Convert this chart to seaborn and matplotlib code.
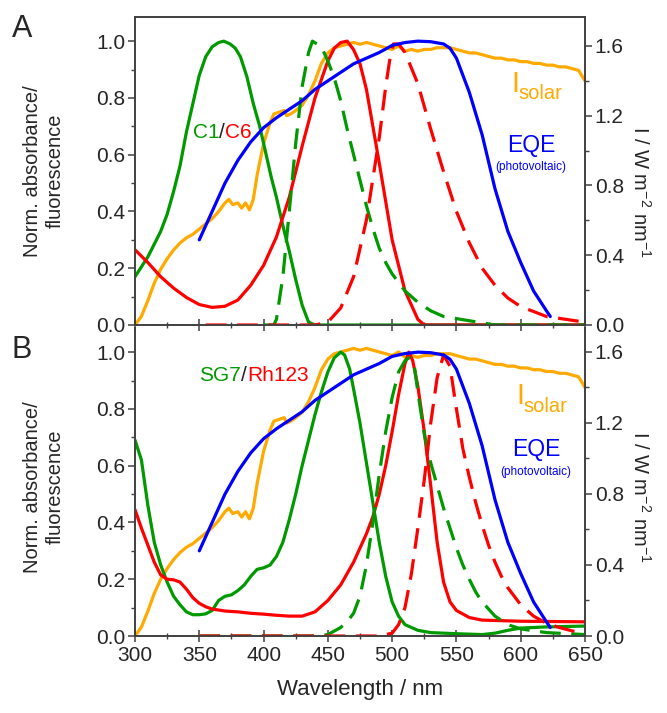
import numpy as np
import pandas as pd
import matplotlib
matplotlib.use("Agg")
import matplotlib.pyplot as plt
from matplotlib.ticker import MultipleLocator
import seaborn as sns

# ---------------- data ----------------
# Panel A: C1 (green) / C6 (red)
c1_abs_x = [300, 310, 320, 325, 330, 335, 340, 345, 350, 355, 360, 365, 369, 374, 378, 382, 387, 392, 397, 402, 406, 410, 415, 420, 425, 430, 435, 440, 500, 650]
c1_abs_y = [0.17, 0.24, 0.33, 0.39, 0.47, 0.56, 0.68, 0.78, 0.88, 0.945, 0.98, 0.995, 1.0, 0.99, 0.975, 0.945, 0.875, 0.78, 0.70, 0.60, 0.52, 0.45, 0.35, 0.26, 0.16, 0.07, 0.01, 0.0, 0.0, 0.0]

c1_fl_x = [400, 408, 410, 415, 420, 425, 430, 435, 438, 445, 450, 455, 460, 465, 470, 475, 480, 485, 490, 495, 500, 510, 520, 530, 540, 560, 580, 650]
c1_fl_y = [0.0, 0.0, 0.02, 0.17, 0.40, 0.64, 0.84, 0.96, 1.0, 0.98, 0.93, 0.87, 0.79, 0.69, 0.60, 0.51, 0.42, 0.34, 0.27, 0.22, 0.18, 0.12, 0.08, 0.05, 0.03, 0.015, 0.0, 0.0]

c6_abs_x = [300, 310, 320, 330, 340, 350, 360, 370, 380, 390, 400, 410, 420, 430, 440, 450, 455, 460, 465, 470, 475, 480, 490, 500, 510, 520, 525, 650]
c6_abs_y = [0.265, 0.22, 0.17, 0.13, 0.097, 0.072, 0.062, 0.066, 0.088, 0.14, 0.21, 0.31, 0.45, 0.63, 0.80, 0.93, 0.975, 0.995, 1.0, 0.97, 0.92, 0.83, 0.57, 0.30, 0.12, 0.02, 0.0, 0.0]

c6_fl_x = [355, 440, 450, 460, 470, 480, 490, 495, 498, 501, 505, 510, 520, 530, 540, 550, 560, 570, 580, 590, 600, 620, 650]
c6_fl_y = [0.0, 0.0, 0.01, 0.06, 0.17, 0.37, 0.66, 0.84, 0.93, 0.99, 0.99, 0.96, 0.85, 0.69, 0.54, 0.40, 0.29, 0.20, 0.14, 0.095, 0.065, 0.03, 0.01]

# Panel B: SG7 (green) / Rh123 (red)
sg7_abs_x = [300, 305, 310, 315, 320, 325, 330, 335, 340, 345, 350, 355, 360, 365, 370, 375, 380, 385, 390, 395, 400, 405, 410, 415, 420, 425, 430, 435, 440, 445, 450, 455, 460, 463, 467, 470, 475, 480, 485, 490, 495, 500, 505, 510, 520, 530, 550, 570, 580, 590, 600, 620, 650]
sg7_abs_y = [0.69, 0.62, 0.46, 0.33, 0.25, 0.19, 0.14, 0.11, 0.085, 0.075, 0.075, 0.078, 0.09, 0.125, 0.14, 0.145, 0.16, 0.18, 0.21, 0.235, 0.24, 0.25, 0.28, 0.33, 0.41, 0.50, 0.60, 0.69, 0.78, 0.86, 0.93, 0.98, 1.0, 0.99, 0.94, 0.87, 0.75, 0.61, 0.47, 0.33, 0.21, 0.12, 0.07, 0.04, 0.02, 0.012, 0.008, 0.005, 0.01, 0.02, 0.028, 0.032, 0.035]

sg7_fl_x = [350, 440, 450, 460, 465, 470, 475, 480, 485, 490, 495, 500, 505, 510, 513, 517, 520, 525, 530, 535, 540, 545, 550, 555, 560, 565, 570, 580, 590, 600, 620, 650]
sg7_fl_y = [0.0, 0.0, 0.005, 0.03, 0.05, 0.08, 0.14, 0.25, 0.40, 0.57, 0.72, 0.84, 0.93, 0.97, 0.98, 0.96, 0.86, 0.71, 0.61, 0.53, 0.45, 0.38, 0.31, 0.25, 0.20, 0.155, 0.12, 0.07, 0.04, 0.025, 0.012, 0.005]

rh_abs_x = [300, 305, 310, 315, 320, 325, 330, 335, 340, 345, 350, 355, 360, 370, 380, 390, 400, 410, 420, 430, 440, 450, 460, 470, 480, 485, 490, 495, 500, 505, 510, 513, 516, 520, 525, 530, 535, 540, 545, 550, 560, 570, 600, 650]
rh_abs_y = [0.445, 0.38, 0.32, 0.26, 0.215, 0.20, 0.198, 0.19, 0.165, 0.135, 0.115, 0.103, 0.095, 0.088, 0.085, 0.08, 0.077, 0.073, 0.07, 0.07, 0.085, 0.125, 0.18, 0.26, 0.36, 0.42, 0.50, 0.60, 0.72, 0.85, 0.96, 1.0, 0.97, 0.88, 0.72, 0.53, 0.33, 0.19, 0.12, 0.09, 0.065, 0.056, 0.052, 0.05]

rh_fl_x = [350, 490, 495, 500, 505, 510, 515, 520, 525, 530, 535, 540, 545, 550, 555, 560, 565, 570, 575, 580, 585, 590, 600, 610, 620, 630, 640, 650]
rh_fl_y = [0.0, 0.0, 0.005, 0.01, 0.04, 0.10, 0.22, 0.38, 0.55, 0.75, 0.91, 0.99, 0.95, 0.80, 0.66, 0.56, 0.47, 0.39, 0.32, 0.26, 0.21, 0.17, 0.11, 0.07, 0.045, 0.03, 0.018, 0.01]

# EQE (photovoltaic), normalised
eqe_x = [350, 360, 370, 380, 390, 400, 410, 420, 430, 440, 450, 460, 470, 480, 490, 500, 510, 520, 530, 540, 545, 550, 560, 570, 580, 590, 600, 610, 620, 623]
eqe_y = [0.30, 0.40, 0.50, 0.58, 0.645, 0.695, 0.73, 0.76, 0.79, 0.83, 0.86, 0.89, 0.92, 0.94, 0.96, 0.985, 0.995, 1.0, 0.998, 0.99, 0.975, 0.94, 0.82, 0.67, 0.48, 0.33, 0.22, 0.12, 0.05, 0.03]

# Solar irradiance (W m-2 nm-1)
sol_x = [300, 305, 310, 315, 320, 325, 330, 335, 340, 345, 350, 355, 360, 365, 370, 373, 376, 380, 383, 386, 389, 392, 395, 400, 405, 408, 412, 416, 418, 421, 425, 430, 435, 440, 445, 450, 455, 460, 465, 470, 475, 480, 485, 490, 495, 500, 505, 510, 515, 520, 525, 530, 535, 540, 545, 550, 555, 560, 565, 570, 575, 580, 585, 590, 595, 600, 605, 610, 615, 620, 625, 630, 635, 640, 645, 650]
sol_y = [0.0, 0.05, 0.14, 0.24, 0.32, 0.38, 0.43, 0.47, 0.50, 0.52, 0.55, 0.58, 0.61, 0.65, 0.70, 0.72, 0.69, 0.70, 0.67, 0.70, 0.66, 0.72, 0.86, 1.04, 1.16, 1.21, 1.22, 1.23, 1.20, 1.21, 1.23, 1.26, 1.32, 1.40, 1.50, 1.56, 1.59, 1.60, 1.61, 1.62, 1.61, 1.62, 1.61, 1.60, 1.59, 1.58, 1.60, 1.57, 1.58, 1.57, 1.58, 1.58, 1.59, 1.59, 1.59, 1.58, 1.57, 1.56, 1.56, 1.55, 1.54, 1.53, 1.53, 1.52, 1.52, 1.51, 1.51, 1.50, 1.50, 1.49, 1.49, 1.48, 1.48, 1.47, 1.46, 1.40]

xticks = [300, 350, 400, 450, 500, 550, 600, 650]
left_ticks = [0.0, 0.2, 0.4, 0.6, 0.8, 1.0]
right_ticks = [0.0, 0.4, 0.8, 1.2, 1.6]

# ---------------- style ----------------
sns.set_style("ticks")
plt.rcParams["font.family"] = ["Liberation Sans", "DejaVu Sans"]
plt.rcParams["mathtext.fontset"] = "custom"
plt.rcParams["mathtext.rm"] = "Liberation Sans"
plt.rcParams["mathtext.it"] = "Liberation Sans:italic"

GREEN = "#009a00"
RED = "#ff0000"
BLUE = "#0000ff"
ORANGE = "#ffaa00"
SPINE = "#404040"
LW = 2.3
DASH = (0, (6.5, 3.3))

W, H = 667, 713
fig = plt.figure(figsize=(W / 100, H / 100), dpi=100)

def frac(x0, y_top, x1, y_bot):
    return [x0 / W, 1 - y_bot / H, (x1 - x0) / W, (y_bot - y_top) / H]

axA = fig.add_axes(frac(135, 17, 585, 325))
axB = fig.add_axes(frac(135, 328, 585, 636))
axA2 = axA.twinx()
axB2 = axB.twinx()

def line(ax, x, y, color, dashed=False, z=2):
    sns.lineplot(x=x, y=y, ax=ax, color=color, lw=LW,
                 linestyle=DASH if dashed else "-", zorder=z, legend=False)

# Panel A curves
line(axA2, sol_x, sol_y, ORANGE, z=1)
line(axA, c1_abs_x, c1_abs_y, GREEN)
line(axA, c6_abs_x, c6_abs_y, RED)
line(axA, c1_fl_x, c1_fl_y, GREEN, dashed=True)
line(axA, c6_fl_x, c6_fl_y, RED, dashed=True)
line(axA, eqe_x, eqe_y, BLUE)

# Panel B curves
line(axB2, sol_x, sol_y, ORANGE, z=1)
line(axB, sg7_abs_x, sg7_abs_y, GREEN)
line(axB, rh_abs_x, rh_abs_y, RED)
line(axB, sg7_fl_x, sg7_fl_y, GREEN, dashed=True)
line(axB, rh_fl_x, rh_fl_y, RED, dashed=True)
line(axB, eqe_x, eqe_y, BLUE)

# draw left axes content above the twin (orange below)
for ax, ax2 in ((axA, axA2), (axB, axB2)):
    ax.set_zorder(ax2.get_zorder() + 1)
    ax.patch.set_visible(False)

axA2.set_ylim(0, 1.766)
axB2.set_ylim(0, 1.735)

for ax, ax2, show_x in ((axA, axA2, False), (axB, axB2, True)):
    ax.set_xlim(300, 650)
    ax.set_ylim(0, 1.085)
    ax.set_xlabel("")
    ax.set_ylabel("")
    ax2.set_ylabel("")
    ax.set_xticks(xticks)
    ax.xaxis.set_minor_locator(MultipleLocator(25))
    ax.set_yticks(left_ticks)
    ax.set_yticklabels([f"{v:.1f}" for v in left_ticks])
    ax.yaxis.set_minor_locator(MultipleLocator(0.1))
    ax2.set_yticks(right_ticks)
    ax2.set_yticklabels([f"{v:.1f}" for v in right_ticks])
    ax2.yaxis.set_minor_locator(MultipleLocator(0.2))
    ax.tick_params(axis="x", which="major", direction="inout", length=8, width=1.1,
                   color=SPINE, labelsize=15, labelbottom=show_x, pad=3)
    ax.tick_params(axis="x", which="minor", direction="inout", length=5, width=1.0, color=SPINE)
    ax.tick_params(axis="y", which="major", direction="out", length=5, width=1.1,
                   color=SPINE, labelsize=15, pad=2)
    ax.tick_params(axis="y", which="minor", direction="out", length=3, width=1.0, color=SPINE)
    ax2.tick_params(axis="y", which="major", direction="out", length=5, width=1.1,
                    color=SPINE, labelsize=15, pad=2)
    ax2.tick_params(axis="y", which="minor", direction="out", length=3, width=1.0, color=SPINE)
    for a in (ax, ax2):
        for s in a.spines.values():
            s.set_color(SPINE)
            s.set_linewidth(1.2)

axB.spines["top"].set_visible(False)
axB2.spines["top"].set_visible(False)

axB.set_xlabel("Wavelength / nm", fontsize=16, labelpad=10)

# y labels
for yc in (171, 487):
    fig.text(44 / W, 1 - yc / H, "Norm. absorbance/\nfluorescence", rotation=90,
             ha="center", va="center", fontsize=14.5, linespacing=1.25)
for yc in (192, 497):
    fig.text(640 / W, 1 - yc / H, "I / W m$^{-2}$ nm$^{-1}$", rotation=270,
             ha="center", va="center", fontsize=14.5)

# panel letters
fig.text(22 / W, 1 - 29 / H, "A", fontsize=22, ha="center", va="center")
fig.text(22 / W, 1 - 350 / H, "B", fontsize=22, ha="center", va="center")

# multi-coloured dye labels
def multicolor(ax, x, y, parts, size):
    renderer = fig.canvas.get_renderer()
    t = ax.text(x, y, parts[0][0], color=parts[0][1], fontsize=size, ha="left", va="bottom")
    for s, c in parts[1:]:
        t.draw(renderer)
        t = ax.annotate(s, xy=(1, 0), xycoords=t, color=c, fontsize=size,
                        ha="left", va="bottom")

multicolor(axA, 345, 0.645, [("C1", GREEN), ("/", "#222222"), ("C6", RED)], 15)
multicolor(axB, 350, 0.884, [("SG7", GREEN), ("/", "#222222"), ("Rh123", RED)], 15)

# I_solar labels
axA.text(593, 0.82, "I", color=ORANGE, fontsize=21, ha="left", va="baseline")
axA.text(598.5, 0.797, "solar", color=ORANGE, fontsize=14.5, ha="left", va="baseline")
axB.text(596.5, 0.819, "I", color=ORANGE, fontsize=21, ha="left", va="baseline")
axB.text(602, 0.79, "solar", color=ORANGE, fontsize=14.5, ha="left", va="baseline")

# EQE labels
axA.text(608, 0.609, "EQE", color=BLUE, fontsize=16.5, ha="center", va="baseline")
axA.text(608, 0.558, "(photovoltaic)", color=BLUE, fontsize=8.5, ha="center", va="center")
axB.text(612.5, 0.634, "EQE", color=BLUE, fontsize=16.5, ha="center", va="baseline")
axB.text(612, 0.578, "(photovoltaic)", color=BLUE, fontsize=8.5, ha="center", va="center")

fig.savefig("out.png", dpi=100)
